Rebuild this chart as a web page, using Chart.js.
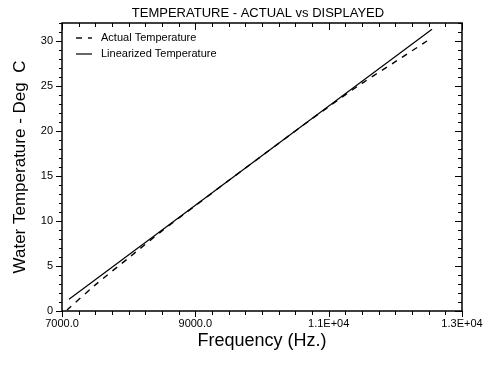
<!DOCTYPE html>
<html>
<head>
<meta charset="utf-8">
<script src="https://cdn.jsdelivr.net/npm/chart.js@4.4.0/dist/chart.umd.min.js"></script>
<style>
html, body { margin: 0; padding: 0; background: #fff; }
#wrap { width: 492px; height: 368px; }
</style>
</head>
<body>
<div id="wrap"><canvas id="chart" width="492" height="368"></canvas></div>
<script>
// values
const actualFreq = [7075, 7500, 8000, 8500, 9000, 9500, 10000, 10500, 11000, 11500, 12000, 12475];
const actualTemp = [0.1, 2.9, 5.9, 8.9, 11.7, 14.5, 17.25, 20.0, 22.7, 25.3, 27.7, 30.0];
const linearFreq = [7105, 12550];
const linearTemp = [1.3, 31.3];

const xTickValues = [7000, 9000, 11000, 13000];
const xTickLabels = ['7000.0', '9000.0', '1.1E+04', '1.3E+04'];
const yTickValues = [0, 5, 10, 15, 20, 25, 30];
const xMinorStep = 250;
const yMinorStep = 1;
const chartTitle = 'TEMPERATURE - ACTUAL vs DISPLAYED';

const FONT = '"Liberation Sans", "DejaVu Sans", sans-serif';

function toPoints(xs, ys) {
    return xs.map((x, i) => ({ x, y: ys[i] }));
}

// frame, minor/major ticks, title over the plot box and the legend inside it
const framePlugin = {
    id: 'frame',
    afterDraw(chart) {
        const { ctx, chartArea: a, scales } = chart;
        const xs = scales.x, ys = scales.y;
        ctx.save();
        ctx.strokeStyle = '#000';
        ctx.lineWidth = 1.5;
        ctx.strokeRect(a.left, a.top, a.right - a.left, a.bottom - a.top);

        ctx.lineWidth = 1;
        ctx.beginPath();
        for (let v = xs.min; v <= xs.max + 0.001; v += xMinorStep) {
            const px = Math.round(xs.getPixelForValue(v)) + 0.5;
            const major = xTickValues.includes(v);
            ctx.moveTo(px, a.bottom);
            ctx.lineTo(px, a.bottom + (major ? 6 : 4));
            ctx.moveTo(px, a.top);
            ctx.lineTo(px, a.top + (major ? 7 : 4));
        }
        for (let v = ys.min; v <= ys.max + 0.001; v += yMinorStep) {
            const py = Math.round(ys.getPixelForValue(v)) + 0.5;
            const major = yTickValues.includes(v);
            ctx.moveTo(a.left, py);
            ctx.lineTo(a.left - (major ? 6 : 3), py);
            ctx.moveTo(a.right, py);
            ctx.lineTo(a.right - (major ? 7 : 4), py);
        }
        ctx.stroke();

        ctx.fillStyle = '#000';
        ctx.textBaseline = 'middle';
        ctx.textAlign = 'center';
        ctx.font = '13px ' + FONT;
        ctx.fillText(chartTitle, (a.left + a.right) / 2 - 4, 13);

        // legend
        ctx.textAlign = 'left';
        ctx.font = '11px ' + FONT;
        chart.data.datasets.forEach((ds, i) => {
            const y = a.top + 15 + i * 16;
            ctx.beginPath();
            ctx.setLineDash(ds.borderDash || []);
            ctx.lineWidth = ds.borderWidth;
            ctx.moveTo(a.left + 14, y);
            ctx.lineTo(a.left + 30, y);
            ctx.stroke();
            ctx.setLineDash([]);
            ctx.fillText(ds.label, a.left + 39, y);
        });
        ctx.restore();
    }
};

new Chart(document.getElementById('chart'), {
    type: 'line',
    data: {
        datasets: [
            {
                label: 'Actual Temperature',
                data: toPoints(actualFreq, actualTemp),
                borderColor: '#000',
                borderWidth: 1.4,
                borderDash: [6, 6],
                pointRadius: 0,
                tension: 0.3,
                fill: false,
            },
            {
                label: 'Linearized Temperature',
                data: toPoints(linearFreq, linearTemp),
                borderColor: '#000',
                borderWidth: 1.2,
                pointRadius: 0,
                fill: false,
            },
        ],
    },
    options: {
        responsive: false,
        animation: false,
        layout: { padding: { left: 0, right: 30, top: 23, bottom: 16 } },
        plugins: {
            legend: { display: false },
            tooltip: { enabled: false },
            title: { display: false },
        },
        scales: {
            x: {
                type: 'linear',
                min: 7000,
                max: 13000,
                grid: { display: false },
                border: { display: false },
                afterBuildTicks(s) { s.ticks = xTickValues.map(v => ({ value: v })); },
                afterFit(s) { s.height = 41; },
                ticks: {
                    autoSkip: false,
                    maxRotation: 0,
                    padding: -2,
                    color: '#000',
                    font: { family: FONT, size: 11 },
                    callback: v => xTickLabels[xTickValues.indexOf(v)],
                },
                title: {
                    display: true,
                    text: 'Frequency (Hz.)',
                    color: '#000',
                    font: { family: FONT, size: 18 },
                    padding: { top: 0, bottom: 0 },
                },
            },
            y: {
                min: 0,
                max: 32,
                grid: { display: false },
                border: { display: false },
                afterBuildTicks(s) { s.ticks = yTickValues.map(v => ({ value: v })); },
                afterFit(s) { s.width = 62; },
                ticks: {
                    padding: 1,
                    color: '#000',
                    font: { family: FONT, size: 11 },
                },
                title: {
                    display: true,
                    text: 'Water Temperature - Deg  C',
                    color: '#000',
                    font: { family: FONT, size: 17 },
                    padding: { top: 10, bottom: 0 },
                },
            },
        },
    },
    plugins: [framePlugin],
});
</script>
</body>
</html>
